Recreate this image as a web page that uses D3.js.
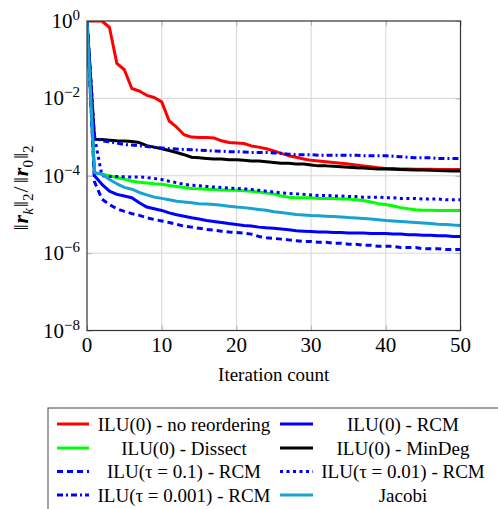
<!DOCTYPE html>
<html>
<head>
<meta charset="utf-8">
<script src="https://cdn.jsdelivr.net/npm/d3@7"></script>
<style>
  html, body { margin: 0; padding: 0; background: #fff; }
  svg { display: block; font-family: "Liberation Serif", "Times New Roman", serif; }
</style>
</head>
<body>
<svg id="chart" width="498" height="509"></svg>
<script>
// ---------- data (iterations 0..50) ----------
const iterations = d3.range(0, 51);
const xTicks = [0, 10, 20, 30, 40, 50];
const yTickExps = [0, -2, -4, -6, -8];

const ilu0NoReorder = [1, 1, 1, 0.69, 0.08, 0.055, 0.018, 0.0155, 0.012, 0.0105, 0.0081,
  0.0026, 0.0018, 0.00115, 0.001, 0.00098, 0.00097, 0.00095, 0.0008, 0.00072, 0.0007,
  0.00068, 0.00059, 0.00055, 0.0005, 0.00044, 0.00038, 0.00033, 0.0003, 0.00027, 0.00025,
  0.00024, 0.00023, 0.00022, 0.00021, 0.0002, 0.00019, 0.00018, 0.00017, 0.00016, 0.000155,
  0.000153, 0.00015, 0.00015, 0.000148, 0.000148, 0.000147, 0.000146, 0.000146, 0.000145, 0.000145];

const ilu0RCM = [1, 0.0001, 0.00006, 0.00004, 0.000033, 0.00003, 0.000027, 0.00002, 0.0000155, 0.000014, 0.0000127,
  0.000011, 0.0000098, 0.000009, 0.0000082, 0.0000076, 0.000007, 0.0000066, 0.0000062, 0.0000058, 0.0000055,
  0.0000052, 0.000005, 0.0000047, 0.0000045, 0.0000044, 0.0000042, 0.000004, 0.0000038, 0.0000037, 0.0000036,
  0.0000035, 0.0000035, 0.0000034, 0.0000034, 0.0000033, 0.0000033, 0.0000033, 0.0000032, 0.0000032, 0.0000032,
  0.0000031, 0.0000031, 0.000003, 0.000003, 0.0000029, 0.0000029, 0.0000028, 0.0000028, 0.0000027, 0.0000027];

const ilu0Dissect = [1, 0.00012, 0.00011, 0.0001, 0.00009, 0.000082, 0.000072, 0.000068, 0.000065, 0.000062, 0.00006,
  0.000056, 0.000053, 0.00005, 0.000047, 0.000046, 0.000045, 0.000044, 0.000043, 0.000042, 0.000042,
  0.000041, 0.00004, 0.000038, 0.000036, 0.000034, 0.00003, 0.000028, 0.000027, 0.000027, 0.000027,
  0.000026, 0.000026, 0.000026, 0.000025, 0.000025, 0.000024, 0.000023, 0.000021, 0.000019, 0.000018,
  0.0000165, 0.000015, 0.000014, 0.0000132, 0.0000128, 0.0000128, 0.0000127, 0.0000127, 0.0000127, 0.0000127];

const ilu0MinDeg = [1, 0.00088, 0.00086, 0.00083, 0.0008, 0.00079, 0.00077, 0.00072, 0.0006, 0.00055, 0.0005,
  0.00045, 0.0004, 0.00035, 0.0003, 0.00029, 0.00028, 0.00027, 0.00027, 0.00026, 0.00026,
  0.00025, 0.00024, 0.00024, 0.00023, 0.00022, 0.00021, 0.00021, 0.0002, 0.0002, 0.00019,
  0.00018, 0.00018, 0.000175, 0.00017, 0.000165, 0.00016, 0.000158, 0.000155, 0.00015, 0.00015,
  0.000148, 0.000145, 0.000143, 0.00014, 0.00014, 0.000138, 0.000136, 0.000134, 0.000133, 0.000132];

const iluTau01RCM = [1, 0.00007, 0.000025, 0.000018, 0.000014, 0.000012, 0.0000105, 0.0000095, 0.0000082, 0.0000074, 0.0000068,
  0.0000062, 0.0000055, 0.000005, 0.0000047, 0.0000044, 0.0000041, 0.0000039, 0.0000037, 0.0000035, 0.0000034,
  0.0000033, 0.0000031, 0.0000027, 0.0000025, 0.0000024, 0.0000023, 0.0000022, 0.0000021, 0.000002, 0.000002,
  0.0000019, 0.0000019, 0.0000018, 0.0000018, 0.0000017, 0.0000017, 0.0000016, 0.0000016, 0.0000015, 0.0000015,
  0.0000015, 0.0000014, 0.0000014, 0.0000014, 0.0000013, 0.0000013, 0.0000013, 0.00000125, 0.00000125, 0.00000124];

const iluTau001RCM = [1, 0.001, 0.0001, 0.000095, 0.000095, 0.000094, 0.000093, 0.000093, 0.00009, 0.000085, 0.00008,
  0.000072, 0.000066, 0.00006, 0.000057, 0.000055, 0.000053, 0.000051, 0.00005, 0.000048, 0.000047,
  0.000046, 0.000044, 0.000042, 0.00004, 0.000038, 0.000036, 0.000035, 0.000034, 0.000033, 0.000032,
  0.000031, 0.000031, 0.00003, 0.00003, 0.000029, 0.000029, 0.000028, 0.000028, 0.000028, 0.000027,
  0.000027, 0.000026, 0.000026, 0.000026, 0.000025, 0.000025, 0.000025, 0.000024, 0.000024, 0.000024];

const iluTau0001RCM = [1, 0.001, 0.0008, 0.00075, 0.0007, 0.00064, 0.00062, 0.0006, 0.00057, 0.00054, 0.00052,
  0.0005, 0.00049, 0.00048, 0.00047, 0.00046, 0.00045, 0.00044, 0.00043, 0.00042, 0.00042,
  0.00041, 0.0004, 0.0004, 0.0004, 0.00039, 0.00038, 0.00036, 0.00035, 0.00035, 0.00035,
  0.00034, 0.00034, 0.00034, 0.00034, 0.00034, 0.00034, 0.00033, 0.00033, 0.00033, 0.00033,
  0.00032, 0.00031, 0.0003, 0.00029, 0.00029, 0.00029, 0.00028, 0.00028, 0.00028, 0.00028];

const jacobi = [1, 0.00012, 0.00011, 0.00008, 0.000062, 0.00005, 0.000045, 0.000037, 0.000032, 0.000028, 0.000026,
  0.000024, 0.000022, 0.000021, 0.00002, 0.000019, 0.0000185, 0.000018, 0.0000172, 0.0000163, 0.0000155,
  0.000015, 0.0000143, 0.0000135, 0.0000128, 0.0000118, 0.0000112, 0.0000106, 0.00001, 0.0000097, 0.0000094,
  0.0000092, 0.000009, 0.0000088, 0.0000086, 0.0000083, 0.0000081, 0.0000079, 0.0000076, 0.0000073, 0.000007,
  0.0000068, 0.0000066, 0.0000064, 0.0000062, 0.000006, 0.0000058, 0.0000056, 0.0000055, 0.0000053, 0.0000052];

const seriesNames = ["ILU(0) - no reordering", "ILU(0) - RCM", "ILU(0) - Dissect", "ILU(0) - MinDeg",
  "ILU(τ = 0.1) - RCM", "ILU(τ = 0.01) - RCM", "ILU(τ = 0.001) - RCM", "Jacobi"];
const seriesValues = [ilu0NoReorder, ilu0RCM, ilu0Dissect, ilu0MinDeg, iluTau01RCM, iluTau001RCM, iluTau0001RCM, jacobi];
const seriesColors = ["#ff0000", "#0000ff", "#00ff00", "#000000", "#0000ff", "#0000ff", "#0000ff", "#17a2d0"];
const seriesDash = [null, null, null, null, "6,4", "3,3.5", "6,3,2,3", null];

// ---------- layout ----------
const svg = d3.select("#chart");
const pL = 87, pR = 460.5, pT = 21, pB = 330.5;

const x = d3.scaleLinear().domain([0, 50]).range([pL, pR]);
const y = d3.scaleLog().domain([1e-8, 1]).range([pB, pT]);

// grid
const grid = svg.append("g");
xTicks.slice(1, -1).forEach(t => {
  grid.append("line").attr("x1", x(t)).attr("x2", x(t)).attr("y1", pT).attr("y2", pB)
    .attr("stroke", "#d4d4d4").attr("stroke-width", 1);
});
yTickExps.slice(1, -1).forEach(e => {
  grid.append("line").attr("x1", pL).attr("x2", pR).attr("y1", y(Math.pow(10, e))).attr("y2", y(Math.pow(10, e)))
    .attr("stroke", "#d4d4d4").attr("stroke-width", 1);
});

// tick marks inside (bottom/top, left/right)
const xAxisB = d3.axisBottom(x).tickValues(xTicks).tickSize(-5).tickFormat("");
const xAxisT = d3.axisTop(x).tickValues(xTicks).tickSize(-5).tickFormat("");
const yVals = yTickExps.map(e => Math.pow(10, e));
const yAxisL = d3.axisLeft(y).tickValues(yVals).tickSize(-5).tickFormat("");
const yAxisR = d3.axisRight(y).tickValues(yVals).tickSize(-5).tickFormat("");
[[xAxisB, `translate(0,${pB})`], [xAxisT, `translate(0,${pT})`],
 [yAxisL, `translate(${pL},0)`], [yAxisR, `translate(${pR},0)`]].forEach(([ax, tr]) => {
  const g = svg.append("g").attr("transform", tr).call(ax);
  g.select(".domain").remove();
  g.selectAll(".tick line").attr("stroke", "#b0b0b0");
});

// clip
svg.append("clipPath").attr("id", "plotclip").append("rect")
  .attr("x", pL).attr("y", pT).attr("width", pR - pL).attr("height", pB - pT);

const line = d3.line().x((d, i) => x(iterations[i])).y(d => y(d));
const plot = svg.append("g").attr("clip-path", "url(#plotclip)");
seriesValues.forEach((vals, k) => {
  plot.append("path").datum(vals).attr("d", line)
    .attr("fill", "none").attr("stroke", seriesColors[k]).attr("stroke-width", 3)
    .attr("stroke-linejoin", "round")
    .attr("stroke-dasharray", seriesDash[k]);
});

// frame
svg.append("rect").attr("x", pL).attr("y", pT).attr("width", pR - pL).attr("height", pB - pT)
  .attr("fill", "none").attr("stroke", "#333").attr("stroke-width", 1.2);

// x tick labels
xTicks.forEach(t => {
  svg.append("text").attr("x", x(t)).attr("y", 352).attr("text-anchor", "middle")
    .attr("font-size", 21).attr("fill", "#000").text(t);
});

// y tick labels 10^e
yTickExps.forEach(e => {
  const t = svg.append("text").attr("x", 80).attr("y", y(Math.pow(10, e)) + 7)
    .attr("text-anchor", "end").attr("font-size", 21).attr("fill", "#000");
  t.append("tspan").text("10");
  t.append("tspan").attr("dy", -8).attr("font-size", 15).text(e === 0 ? "0" : "−" + Math.abs(e));
});

// x label
svg.append("text").attr("x", (pL + pR) / 2).attr("y", 381).attr("text-anchor", "middle")
  .attr("font-size", 19).attr("fill", "#000").text("Iteration count");

// y label
const yl = svg.append("text").attr("transform", "translate(28,188) rotate(-90)")
  .attr("text-anchor", "middle").attr("font-size", 22).attr("fill", "#000");
const sub = 15, gap = 3;
yl.append("tspan").text("‖");
yl.append("tspan").attr("dx", 1).attr("font-weight", "bold").attr("font-style", "italic").text("r");
yl.append("tspan").attr("font-size", sub).attr("font-style", "italic").attr("dy", 5).text("k");
yl.append("tspan").attr("dx", 1).attr("dy", -5).text("‖");
yl.append("tspan").attr("font-size", sub).attr("dy", 5).text("2");
yl.append("tspan").attr("dx", 1).attr("dy", -5).text("/");
yl.append("tspan").attr("dx", gap).text("‖");
yl.append("tspan").attr("dx", 1).attr("font-weight", "bold").attr("font-style", "italic").text("r");
yl.append("tspan").attr("font-size", sub).attr("dy", 5).text("0");
yl.append("tspan").attr("dx", 1).attr("dy", -5).text("‖");
yl.append("tspan").attr("font-size", sub).attr("dy", 5).text("2");

// legend
const lg = svg.append("g");
lg.append("rect").attr("x", 48).attr("y", 408).attr("width", 470).attr("height", 120)
  .attr("fill", "#fff").attr("stroke", "#444").attr("stroke-width", 1);
const rowY = [424, 448, 471.5, 495];
const colSample = [[57, 89], [280, 313]];
const colText = [184, 403];
seriesNames.forEach((name, k) => {
  const row = Math.floor(k / 2), col = k % 2;
  lg.append("line").attr("x1", colSample[col][0]).attr("x2", colSample[col][1])
    .attr("y1", rowY[row]).attr("y2", rowY[row])
    .attr("stroke", seriesColors[k]).attr("stroke-width", 3)
    .attr("stroke-dasharray", seriesDash[k]);
  lg.append("text").attr("x", colText[col]).attr("y", rowY[row] + 6.5).attr("text-anchor", "middle")
    .attr("font-size", 19).attr("fill", "#000").text(name);
});
</script>
</body>
</html>
